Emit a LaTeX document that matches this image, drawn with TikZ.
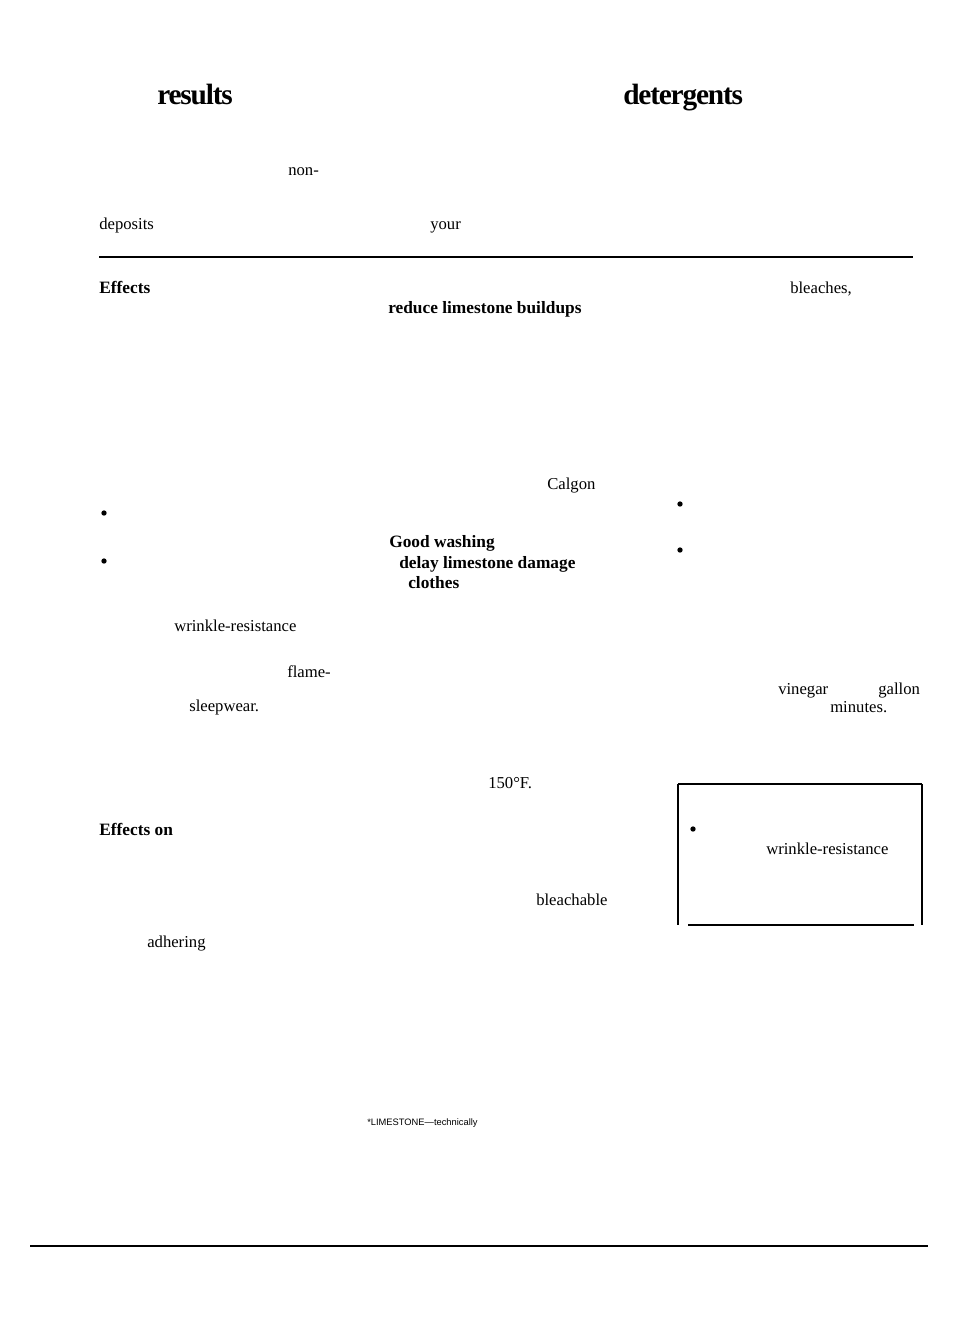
\documentclass[tikz,border=0pt]{standalone}
\usepackage{fontspec}
\setmainfont{Liberation Serif}
\newfontfamily\sansf{Liberation Sans}
\begin{document}
\begin{tikzpicture}[x=0.75pt,y=-0.75pt,
  t/.style={anchor=base west,inner sep=0pt,font=\fontsize{12.5}{14}\selectfont},
  tb/.style={t,font=\fontsize{13}{14}\selectfont\bfseries},
  big/.style={anchor=base west,inner sep=0pt,font=\fontsize{22}{26}\selectfont\bfseries},
  dot/.style={circle,fill=black,inner sep=0pt,minimum size=4pt}]
\useasboundingbox (0,0) rectangle (954,1339);
\node[big] (r) at (157,104) {\addfontfeature{LetterSpace=-4}results};
\node[big] (d) at (623,104) {\addfontfeature{LetterSpace=-4}detergents};
\node[t] (n1) at (288,175) {non-};
\node[t] (n2) at (99,229) {deposits};
\node[t] (n3) at (430,229) {your};
\draw[line width=1.6pt] (99,257) -- (913,257);
\node[tb] (e1) at (99,293) {Effects};
\node[t] (n4) at (790,293) {bleaches,};
\node[tb] (e2) at (388,313) {reduce limestone buildups};
\node[t] (n5) at (547,489) {Calgon};
\node[dot] (b1) at (104,513) {};
\node[dot] (b2) at (104,561) {};
\node[dot] (b3) at (680,504) {};
\node[dot] (b4) at (680,550) {};
\node[tb] (e3) at (389,547) {Good washing};
\node[tb] (e4) at (399,568) {delay limestone damage};
\node[tb] (e5) at (408,588) {clothes};
\node[t] (n6) at (174,631) {wrinkle-resistance};
\node[t] (n7) at (287,677) {flame-};
\node[t] (n8) at (189,711) {sleepwear.};
\node[t] (n9) at (778,694) {vinegar};
\node[t] (n10) at (878,694) {gallon};
\node[t] (n11) at (830,712) {minutes.};
\node[t] (n12) at (488,788) {150°F.};
\draw[line width=0.8pt] (678,784) -- (922,784) (678,784) -- (678,925) (922,784) -- (922,925) (688,925) -- (914,925);
\node[dot] (b5) at (693,829) {};
\node[t] (n13) at (766,854) {wrinkle-resistance};
\node[tb] (e6) at (99,835) {Effects on};
\node[t] (n14) at (536,905) {bleachable};
\node[t] (n15) at (147,947) {adhering};
\node[anchor=base west,inner sep=0pt,font=\sansf\fontsize{7}{8}\selectfont] (f) at (367,1125) {*LIMESTONE—technically};
\draw[line width=0.8pt] (30,1246) -- (928,1246);
\end{tikzpicture}
\end{document}
